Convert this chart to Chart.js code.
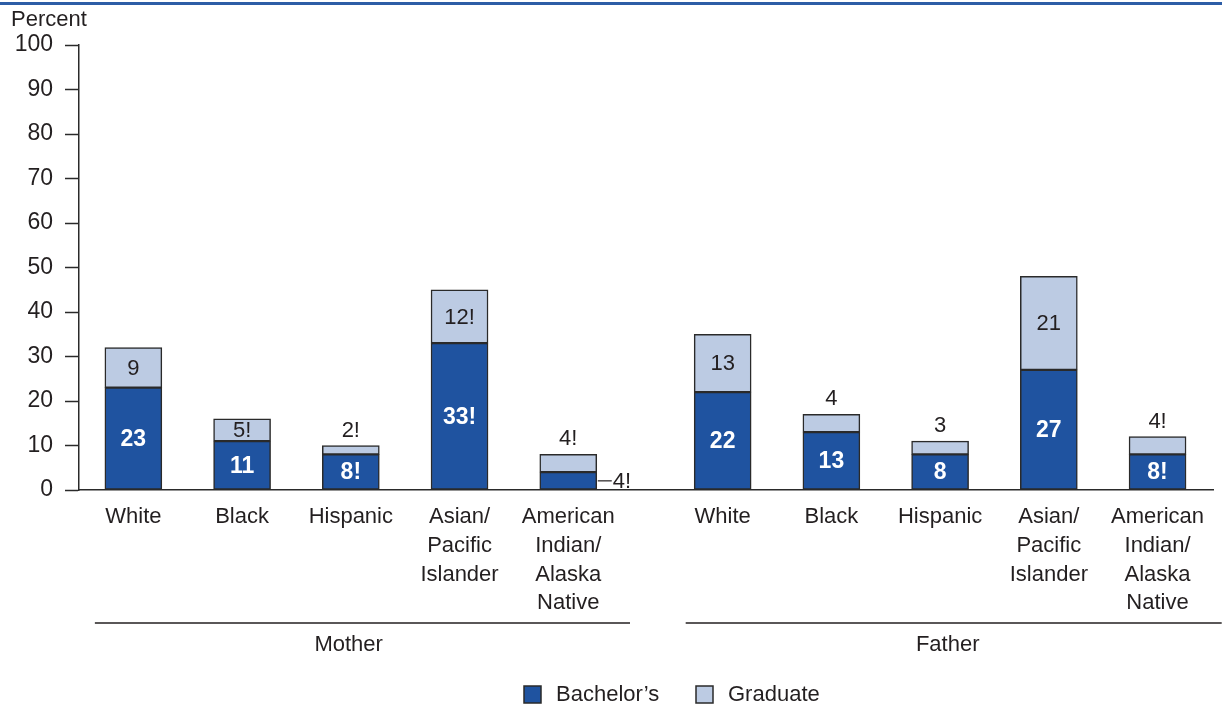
<!DOCTYPE html>
<html><head><meta charset="utf-8">
<script src="https://cdn.jsdelivr.net/npm/chart.js@4.4.0/dist/chart.umd.min.js"></script>
<style>html,body{margin:0;padding:0;background:#fff;}#wrap{width:1222px;height:708px;position:relative;}</style>
</head><body><div id="wrap"><canvas id="c" width="1222" height="708"></canvas></div>
<script>
// ---- data ----
const groups = ['Mother', 'Father'];
const categories = [['White'], ['Black'], ['Hispanic'], ['Asian/', 'Pacific', 'Islander'], ['American', 'Indian/', 'Alaska', 'Native']];
const motherBachelors = [23, 11, 8, 33, 4];
const motherGraduate = [9, 5, 2, 12, 4];
const fatherBachelors = [22, 13, 8, 27, 8];
const fatherGraduate = [13, 4, 3, 21, 4];
// "!" = interpret data with caution
const motherBachelorsFlag = [false, false, true, true, true];
const motherGraduateFlag = [false, true, true, true, true];
const fatherBachelorsFlag = [false, false, false, false, true];
const fatherGraduateFlag = [false, false, false, false, true];
const seriesNames = ['Bachelor\u2019s', 'Graduate'];
const yAxisTitle = 'Percent';
const yTickValues = [0, 10, 20, 30, 40, 50, 60, 70, 80, 90, 100];

// ---- styling / layout ----
const DARK = '#1f53a0', LIGHT = '#bccbe3', EDGE = '#2a2a2a', TEXT = '#231f20';
const FONT = '"Liberation Sans", Arial, sans-serif';
const GROUP_OFFSET = 5.42;
const xPos = (g, i) => g * GROUP_OFFSET + i;

const bachelorsAll = [motherBachelors, fatherBachelors];
const graduateAll = [motherGraduate, fatherGraduate];
const bFlags = [motherBachelorsFlag, fatherBachelorsFlag];
const gFlags = [motherGraduateFlag, fatherGraduateFlag];

const positions = [], bData = [], gData = [], bLab = [], gLab = [];
groups.forEach((g, gi) => {
  categories.forEach((c, i) => {
    const x = xPos(gi, i);
    positions.push(x);
    bData.push({ x: x, y: bachelorsAll[gi][i] });
    gData.push({ x: x, y: graduateAll[gi][i] });
    bLab.push(bachelorsAll[gi][i] + (bFlags[gi][i] ? '!' : ''));
    gLab.push(graduateAll[gi][i] + (gFlags[gi][i] ? '!' : ''));
  });
});

const extras = {
  id: 'extras',
  afterDraw(chart) {
    const ctx = chart.ctx, xs = chart.scales.x;
    ctx.save();
    // top rule
    ctx.fillStyle = '#2d5da6';
    ctx.fillRect(0, 2, chart.width, 3);
    // y title
    ctx.fillStyle = TEXT;
    ctx.font = '22px ' + FONT;
    ctx.textAlign = 'left'; ctx.textBaseline = 'middle';
    ctx.fillText(yAxisTitle, 11, 20);
    // value labels
    const metaB = chart.getDatasetMeta(0), metaG = chart.getDatasetMeta(1);
    metaB.data.forEach((bar, k) => {
      const top = bar.y, bottom = bar.base, h = bottom - top;
      const half = bar.width / 2;
      if (h >= 20) {
        ctx.font = 'bold 23px ' + FONT; ctx.fillStyle = '#fff';
        ctx.textAlign = 'center'; ctx.textBaseline = 'middle';
        ctx.fillText(bLab[k], bar.x, (top + bottom) / 2 + 1);
      } else {
        const ym = (top + bottom) / 2;
        ctx.strokeStyle = TEXT; ctx.lineWidth = 1.2;
        ctx.beginPath(); ctx.moveTo(bar.x + half + 1, ym); ctx.lineTo(bar.x + half + 15, ym); ctx.stroke();
        ctx.font = '22px ' + FONT; ctx.fillStyle = TEXT;
        ctx.textAlign = 'left'; ctx.textBaseline = 'middle';
        ctx.fillText(bLab[k], bar.x + half + 16, ym + 1);
      }
    });
    metaG.data.forEach((bar, k) => {
      const top = bar.y, bottom = bar.base, h = bottom - top;
      ctx.font = '22px ' + FONT; ctx.fillStyle = TEXT;
      ctx.textAlign = 'center'; ctx.textBaseline = 'middle';
      if (h >= 20) ctx.fillText(gLab[k], bar.x, (top + bottom) / 2 + 1);
      else ctx.fillText(gLab[k], bar.x, top - 15);
    });
    // group rules and labels
    const lineY = 623;
    const spans = [[-0.354, 4.568], [GROUP_OFFSET - 0.34, GROUP_OFFSET + 4.59]];
    const labelAt = [1.98, GROUP_OFFSET + 2.07];
    groups.forEach((g, gi) => {
      const x0 = xs.getPixelForValue(spans[gi][0]), x1 = xs.getPixelForValue(spans[gi][1]);
      ctx.strokeStyle = TEXT; ctx.lineWidth = 1.5;
      ctx.beginPath(); ctx.moveTo(x0, lineY); ctx.lineTo(x1, lineY); ctx.stroke();
      ctx.font = '22px ' + FONT; ctx.fillStyle = TEXT;
      ctx.textAlign = 'center'; ctx.textBaseline = 'middle';
      ctx.fillText(g, xs.getPixelForValue(labelAt[gi]), 645);
    });
    // legend
    const legendColors = [DARK, LIGHT];
    const legendX = [524, 696], ly = 686;
    seriesNames.forEach((n, i) => {
      ctx.fillStyle = legendColors[i];
      ctx.fillRect(legendX[i], ly, 17, 17);
      ctx.strokeStyle = EDGE; ctx.lineWidth = 1.5;
      ctx.strokeRect(legendX[i], ly, 17, 17);
      ctx.fillStyle = TEXT; ctx.font = '22px ' + FONT;
      ctx.textAlign = 'left'; ctx.textBaseline = 'middle';
      ctx.fillText(n, legendX[i] + 32, ly + 9);
    });
    ctx.restore();
  }
};

new Chart(document.getElementById('c'), {
  type: 'bar',
  data: {
    datasets: [
      { label: seriesNames[0], data: bData, backgroundColor: DARK, borderColor: EDGE, borderWidth: 1.5, borderSkipped: false, grouped: false, barThickness: 57 },
      { label: seriesNames[1], data: gData, backgroundColor: LIGHT, borderColor: EDGE, borderWidth: 1.5, borderSkipped: false, grouped: false, barThickness: 57 }
    ]
  },
  options: {
    responsive: false, animation: false,
    layout: { padding: { top: 45, right: 9, left: 0, bottom: 0 } },
    plugins: { legend: { display: false }, tooltip: { enabled: false } },
    scales: {
      x: {
        type: 'linear', min: -0.5, max: 9.93, stacked: true, offset: false,
        grid: { display: false },
        border: { display: true, color: EDGE, width: 1.5 },
        afterBuildTicks(s) { s.ticks = positions.map(v => ({ value: v })); },
        afterFit(s) { s.height = 218; },
        ticks: {
          autoSkip: false, maxRotation: 0, minRotation: 0, padding: 5,
          color: TEXT, font: { size: 22, family: FONT, lineHeight: 1.3 },
          callback: (v, i) => categories[i % categories.length]
        }
      },
      y: {
        min: 0, max: 100, stacked: true,
        afterBuildTicks(s) { s.ticks = yTickValues.map(v => ({ value: v })); },
        afterFit(s) { s.width = 79; },
        grid: { drawOnChartArea: false, drawTicks: true, tickLength: 14, tickColor: EDGE, tickWidth: 1.5 },
        border: { display: true, color: EDGE, width: 1.5 },
        ticks: { padding: 12, color: TEXT, font: { size: 23, family: FONT } }
      }
    }
  },
  plugins: [extras]
});
</script></body></html>
